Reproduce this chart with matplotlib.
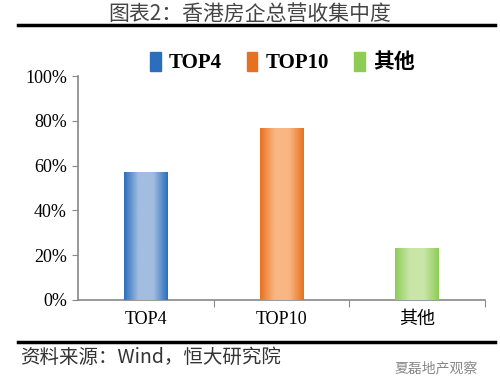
import matplotlib.pyplot as plt
import numpy as np
from matplotlib.colors import LinearSegmentedColormap

plt.rcParams['font.family'] = ['Liberation Serif', 'Noto Sans CJK SC', 'DejaVu Sans']

CATEGORIES = ["TOP4", "TOP10", "其他"]
VALUES = [57, 77, 23]
Y_TICKS = [0, 20, 40, 60, 80, 100]
EDGE_COLORS = ["#2a6ebd", "#e8711f", "#8dcc55"]
MID_COLORS = ["#a3bde0", "#f9b683", "#c9e6a8"]
TITLE = "图表2：香港房企总营收集中度"
SOURCE = "资料来源：Wind，恒大研究院"
WATERMARK = "夏磊地产观察"

SERIF = ['Liberation Serif', 'Noto Sans CJK SC']


def gradient_bar(ax, rect, edge, mid):
    cmap = LinearSegmentedColormap.from_list("g", [edge, mid, mid, edge])
    grad = np.linspace(0, 1, 256).reshape(1, -1)
    x, y = rect.get_x(), rect.get_y()
    w, h = rect.get_width(), rect.get_height()
    im = ax.imshow(grad, cmap=cmap, aspect='auto', extent=[x, x + w, y, y + h],
                   zorder=3, interpolation='bicubic')
    im.set_clip_path(rect)


fig = plt.figure(figsize=(5, 3.92), dpi=100)
ax = fig.add_axes([0.156, 0.235, 0.814, 0.571])

x = np.arange(len(CATEGORIES))
bars = ax.bar(x, VALUES, width=0.32, color=EDGE_COLORS, zorder=2)
for rect, e, m in zip(bars, EDGE_COLORS, MID_COLORS):
    gradient_bar(ax, rect, e, m)

ax.set_xlim(-0.5, 2.5)
ax.set_ylim(0, 100)
ax.set_yticks(Y_TICKS)
ax.set_yticklabels([f"{v}%" for v in Y_TICKS], fontsize=13, family=SERIF)
ax.set_xticks([0.5, 1.5, 2.5])
ax.set_xticklabels([])
ax.set_xticks(x, minor=True)
ax.set_xticklabels(CATEGORIES, minor=True, fontsize=13, family=SERIF)
ax.tick_params(axis='x', which='minor', length=0, pad=8)
ax.tick_params(axis='x', which='major', length=5, color='#888888', direction='out')
ax.tick_params(axis='y', length=4, color='#888888', direction='out', pad=4)
for s in ['top', 'right']:
    ax.spines[s].set_visible(False)
for s in ['left', 'bottom']:
    ax.spines[s].set_color('#888888')
    ax.spines[s].set_linewidth(1.2)

handles = [plt.Rectangle((0, 0), 1, 1, color=c) for c in EDGE_COLORS]
leg = fig.legend(handles, CATEGORIES, loc='center', bbox_to_anchor=(0.565, 0.84),
                 ncol=3, frameon=False, handlelength=0.5, handleheight=1.0,
                 handletextpad=0.4, columnspacing=1.2,
                 prop={'weight': 'bold', 'size': 15, 'family': SERIF})

fig.text(0.5, 0.966, TITLE, ha='center', va='center', fontsize=15,
         family=['Noto Sans CJK SC'], color='#444444')
fig.add_artist(plt.Line2D([0.035, 0.99], [0.935, 0.935], color='black', lw=2.5))
fig.add_artist(plt.Line2D([0.035, 0.99], [0.128, 0.128], color='black', lw=2.5))
fig.text(0.04, 0.088, SOURCE, ha='left', va='center', fontsize=14,
         family=['Noto Sans CJK SC'], style='italic', color='#333333')
fig.text(0.955, 0.06, WATERMARK, ha='right', va='center', fontsize=10,
         family=['Noto Sans CJK SC'], color='#888888')

fig.savefig("out.png", dpi=100)
